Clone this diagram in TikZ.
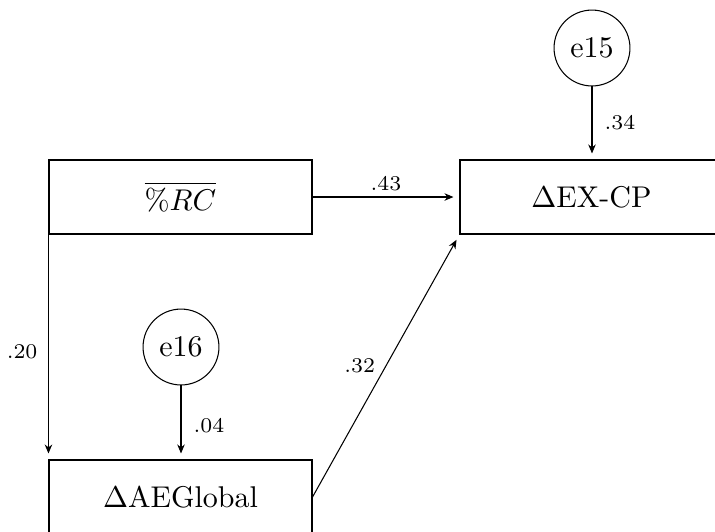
\documentclass[tikz,border=0pt]{standalone}
\usetikzlibrary{arrows.meta}
\begin{document}
\begin{tikzpicture}[x=0.33333pt,y=-0.33333pt,
  var/.style={draw,line width=0.35pt,rectangle,minimum width=87.67pt,minimum height=24.67pt,inner sep=0pt,font=\normalsize},
  err/.style={draw,line width=0.35pt,circle,minimum size=25.3pt,inner sep=0pt,font=\normalsize},
  path/.style={line width=0.35pt,-{Stealth[length=3pt,width=2.5pt]},shorten >=2pt},
  coef/.style={font=\scriptsize,inner sep=1.5pt}]
  \useasboundingbox (0,0) rectangle (715,531);
  % observed variables
  \node[var] (rc) at (180.5,197) {$\overline{\%RC}$};
  \node[var] (ex) at (591.5,197) {$\Delta$EX-CP};
  \node[var] (aeg) at (180.5,497) {$\Delta$AEGlobal};
  % error terms
  \node[err] (e15) at (592,48) {e15};
  \node[err] (e16) at (181,347) {e16};
  % paths with standardised coefficients
  \draw[path] (e15) -- (e15 |- ex.north) node[coef,midway,right,xshift=2.5pt] {.34};
  \draw[path] (rc.east) -- (ex.west) node[coef,midway,above,yshift=0.5pt] {.43};
  \draw[path] (rc.south west) -- (aeg.north west) node[coef,midway,left,xshift=-2pt,yshift=-1.5pt] {.20};
  \draw[path] (e16) -- (e16 |- aeg.north) node[coef,midway,right,xshift=2.5pt,yshift=-1pt] {.04};
  \draw[path] (aeg.east) -- (ex.south west) node[coef,midway,left,xshift=-2pt] {.32};
\end{tikzpicture}
\end{document}
